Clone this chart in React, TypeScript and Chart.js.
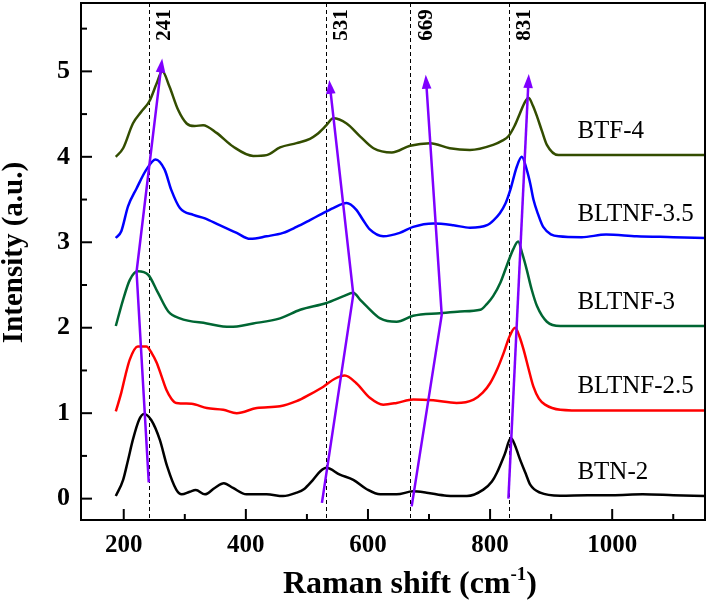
import React, { useEffect, useRef } from 'react';
import { Chart, registerables } from 'chart.js';

Chart.register(...registerables);

// ---------- axis ranges & ticks ----------
const X_MIN = 130;
const X_MAX = 1152;
const Y_MIN = -0.25;
const Y_MAX = 5.8;
const xMajorTicks = [200, 400, 600, 800, 1000];
const xMinorTicks = [300, 500, 700, 900, 1100];
const yMajorTicks = [0, 1, 2, 3, 4, 5];
const yMinorTicks = [0.5, 1.5, 2.5, 3.5, 4.5, 5.5];

// ---------- series ----------
const seriesNames = ['BTN-2', 'BLTNF-2.5', 'BLTNF-3', 'BLTNF-3.5', 'BTF-4'];
const seriesColors = ['#000000', '#ff0000', '#006633', '#0000ff', '#334d00'];

const btn2: [number, number][] = [
  [187, 0.03], [199, 0.22], [207, 0.45], [215, 0.69], [225, 0.92], [233, 0.99], [245, 0.92], [259, 0.69],
  [271, 0.38], [286, 0.105], [295, 0.05], [308, 0.08], [318, 0.1], [333, 0.05], [349, 0.125], [364, 0.18],
  [379, 0.125], [401, 0.05], [434, 0.05], [461, 0.03], [483, 0.07], [495, 0.11], [510, 0.22], [522, 0.32],
  [532, 0.36], [554, 0.28], [576, 0.22], [598, 0.11], [620, 0.05], [647, 0.05], [674, 0.085], [696, 0.07],
  [729, 0.035], [762, 0.03], [789, 0.105], [803, 0.2], [811, 0.3], [824, 0.52], [834, 0.71], [841, 0.62],
  [849, 0.46], [858, 0.3], [866, 0.16], [882, 0.07], [915, 0.035], [960, 0.04], [1000, 0.04], [1050, 0.05],
  [1100, 0.04], [1152, 0.03],
];

const bltnf25: [number, number][] = [
  [187, 1.02], [196, 1.24], [203, 1.45], [210, 1.63], [223, 1.78], [237, 1.78], [246, 1.7], [254, 1.59],
  [262, 1.43], [270, 1.27], [278, 1.17], [286, 1.12], [311, 1.11], [336, 1.06], [363, 1.04], [385, 1.0],
  [418, 1.06], [456, 1.08], [483, 1.14], [505, 1.22], [527, 1.31], [545, 1.4], [562, 1.44], [581, 1.35],
  [603, 1.18], [625, 1.1], [647, 1.12], [674, 1.16], [707, 1.15], [745, 1.12], [773, 1.16], [788, 1.24],
  [800, 1.35], [812, 1.52], [822, 1.7], [832, 1.9], [841, 2.0], [848, 1.9], [855, 1.74], [863, 1.52],
  [871, 1.31], [880, 1.17], [890, 1.1], [915, 1.04], [960, 1.03], [1050, 1.03], [1152, 1.03],
];

const bltnf3: [number, number][] = [
  [187, 2.02], [199, 2.33], [210, 2.56], [223, 2.66], [240, 2.62], [256, 2.41], [273, 2.19], [292, 2.11],
  [336, 2.05], [374, 2.01], [412, 2.05], [456, 2.11], [489, 2.21], [532, 2.29], [560, 2.37], [576, 2.41],
  [587, 2.33], [598, 2.25], [620, 2.11], [647, 2.07], [674, 2.14], [718, 2.17], [751, 2.19], [784, 2.21],
  [795, 2.28], [805, 2.37], [817, 2.53], [827, 2.72], [838, 2.92], [846, 3.01], [853, 2.86], [860, 2.68],
  [868, 2.45], [877, 2.25], [893, 2.07], [915, 2.02], [1000, 2.02], [1152, 2.02],
];

const bltnf35: [number, number][] = [
  [187, 3.05], [196, 3.13], [207, 3.42], [221, 3.63], [237, 3.85], [252, 3.97], [267, 3.85], [278, 3.61],
  [292, 3.4], [314, 3.32], [333, 3.28], [357, 3.2], [385, 3.11], [407, 3.04], [434, 3.07], [461, 3.11],
  [483, 3.18], [505, 3.26], [521, 3.32], [543, 3.4], [565, 3.46], [581, 3.38], [592, 3.26], [603, 3.15],
  [625, 3.07], [652, 3.11], [674, 3.18], [707, 3.22], [740, 3.2], [767, 3.17], [795, 3.2], [806, 3.26],
  [816, 3.34], [825, 3.45], [833, 3.61], [844, 3.89], [852, 4.0], [860, 3.85], [866, 3.68], [871, 3.5],
  [879, 3.32], [887, 3.18], [912, 3.07], [950, 3.06], [990, 3.09], [1040, 3.07], [1100, 3.06], [1152, 3.05],
];

const btf4: [number, number][] = [
  [187, 4.0], [199, 4.1], [215, 4.39], [229, 4.53], [242, 4.65], [254, 4.86], [263, 5.0], [275, 4.82],
  [289, 4.55], [303, 4.39], [316, 4.36], [330, 4.37], [352, 4.28], [379, 4.12], [412, 4.01], [434, 4.02],
  [456, 4.11], [483, 4.16], [505, 4.21], [516, 4.26], [532, 4.37], [543, 4.45], [565, 4.39], [587, 4.24],
  [609, 4.1], [639, 4.05], [669, 4.13], [702, 4.16], [734, 4.1], [767, 4.08], [805, 4.14], [820, 4.19],
  [830, 4.24], [840, 4.36], [849, 4.51], [857, 4.64], [863, 4.69], [870, 4.6], [877, 4.47], [885, 4.3],
  [893, 4.14], [912, 4.02], [1000, 4.02], [1152, 4.02],
];

const seriesData = [btn2, bltnf25, bltnf3, bltnf35, btf4];

// ---------- annotations ----------
const peakPositions = [241, 531, 669, 831];
const peakLabels = ['241', '531', '669', '831'];

const arrow241: [number, number][] = [[241, 0.19], [221, 2.655], [263, 5.15]];
const arrow531: [number, number][] = [[524.6, -0.05], [576, 2.39], [536.6, 4.9]];
const arrow669: [number, number][] = [[671.6, -0.09], [720.8, 2.15], [694.6, 4.96]];
const arrow831: [number, number][] = [[830, 0.0], [863.4, 4.97]];
const arrows = [arrow241, arrow531, arrow669, arrow831];

const seriesLabelX = 943;

const FONT = '"Liberation Serif", "Times New Roman", Times, serif';
const ARROW_COLOR = '#7f00ff';

function drawArrow(ctx: CanvasRenderingContext2D, pts: [number, number][]) {
  const n = pts.length;
  const [tx, ty] = pts[n - 1];
  const [px, py] = pts[n - 2];
  const ang = Math.atan2(ty - py, tx - px);
  const L = 14;
  const W = 4.8;
  const c = Math.cos(ang);
  const s = Math.sin(ang);
  ctx.beginPath();
  ctx.moveTo(pts[0][0], pts[0][1]);
  for (let i = 1; i < n - 1; i++) ctx.lineTo(pts[i][0], pts[i][1]);
  ctx.lineTo(tx - L * 0.8 * c, ty - L * 0.8 * s);
  ctx.stroke();
  ctx.beginPath();
  ctx.moveTo(tx, ty);
  ctx.lineTo(tx - L * c + W * s, ty - L * s - W * c);
  ctx.lineTo(tx - L * c - W * s, ty - L * s + W * c);
  ctx.closePath();
  ctx.fill();
}

const decorPlugin = {
  id: 'decor',
  beforeDatasetsDraw(chart: any) {
    const { ctx, chartArea, scales } = chart;
    const x = scales.x;
    ctx.save();
    ctx.strokeStyle = '#000';
    ctx.lineWidth = 1;
    ctx.setLineDash([4, 3]);
    peakPositions.forEach((p) => {
      const px = Math.round(x.getPixelForValue(p)) + 0.5;
      ctx.beginPath();
      ctx.moveTo(px, chartArea.top);
      ctx.lineTo(px, chartArea.bottom);
      ctx.stroke();
    });
    ctx.restore();
  },
  afterDatasetsDraw(chart: any) {
    const { ctx, scales } = chart;
    const x = scales.x;
    const y = scales.y;
    ctx.save();
    // arrows
    ctx.strokeStyle = ARROW_COLOR;
    ctx.fillStyle = ARROW_COLOR;
    ctx.lineWidth = 2.5;
    ctx.lineJoin = 'round';
    arrows.forEach((a) => {
      const pts = a.map(([vx, vy]) => [x.getPixelForValue(vx), y.getPixelForValue(vy)] as [number, number]);
      drawArrow(ctx, pts);
    });
    // peak labels (rotated)
    ctx.fillStyle = '#000';
    ctx.font = `bold 21px ${FONT}`;
    ctx.textAlign = 'center';
    ctx.textBaseline = 'middle';
    peakPositions.forEach((p, i) => {
      const px = x.getPixelForValue(p) + 16;
      ctx.save();
      ctx.translate(px, 25);
      ctx.rotate(-Math.PI / 2);
      ctx.fillText(peakLabels[i], 0, 0);
      ctx.restore();
    });
    // series labels
    ctx.font = `25px ${FONT}`;
    ctx.textAlign = 'left';
    ctx.textBaseline = 'middle';
    seriesNames.forEach((name, i) => {
      const d = seriesData[i];
      const last = d[d.length - 1][1];
      ctx.fillText(name, x.getPixelForValue(seriesLabelX), y.getPixelForValue(last + 0.28));
    });
    ctx.restore();
  },
  afterDraw(chart: any) {
    const { ctx, chartArea, scales } = chart;
    const { left, right, top, bottom } = chartArea;
    const x = scales.x;
    const y = scales.y;
    ctx.save();
    ctx.strokeStyle = '#000';
    ctx.lineWidth = 2;
    ctx.strokeRect(left, top, right - left, bottom - top);
    // inward ticks
    const tick = (x1: number, y1: number, x2: number, y2: number) => {
      ctx.beginPath();
      ctx.moveTo(x1, y1);
      ctx.lineTo(x2, y2);
      ctx.stroke();
    };
    xMajorTicks.forEach((v) => { const p = x.getPixelForValue(v); tick(p, bottom, p, bottom - 11); });
    xMinorTicks.forEach((v) => { const p = x.getPixelForValue(v); tick(p, bottom, p, bottom - 6); });
    yMajorTicks.forEach((v) => { const p = y.getPixelForValue(v); tick(left, p, left + 11, p); });
    yMinorTicks.forEach((v) => { const p = y.getPixelForValue(v); tick(left, p, left + 6, p); });

    // x title with superscript
    ctx.fillStyle = '#000';
    ctx.textBaseline = 'alphabetic';
    ctx.textAlign = 'left';
    const mainFont = `bold 32px ${FONT}`;
    const supFont = `bold 19px ${FONT}`;
    ctx.font = mainFont;
    const part1 = 'Raman shift (cm';
    const part3 = ')';
    const w1 = ctx.measureText(part1).width;
    const w3 = ctx.measureText(part3).width;
    ctx.font = supFont;
    const w2 = ctx.measureText('-1').width;
    const total = w1 + w2 + w3;
    const cx = (left + right) / 2 + 17;
    let sx = cx - total / 2;
    const base = 593;
    ctx.font = mainFont;
    ctx.fillText(part1, sx, base);
    sx += w1;
    ctx.font = supFont;
    ctx.fillText('-1', sx, base - 13);
    sx += w2;
    ctx.font = mainFont;
    ctx.fillText(part3, sx, base);

    // y title
    ctx.save();
    ctx.translate(22, (top + bottom) / 2 - 9);
    ctx.rotate(-Math.PI / 2);
    ctx.font = `bold 29px ${FONT}`;
    ctx.textAlign = 'center';
    ctx.textBaseline = 'alphabetic';
    ctx.fillText('Intensity (a.u.)', 0, 0);
    ctx.restore();
    ctx.restore();
  },
};

export default function App() {
  const canvasRef = useRef<HTMLCanvasElement | null>(null);

  useEffect(() => {
    document.body.style.margin = '0';
    const canvas = canvasRef.current;
    if (!canvas) return;
    const chart = new Chart(canvas, {
      type: 'line',
      data: {
        datasets: seriesNames.map((name, i) => ({
          label: name,
          data: seriesData[i].map(([vx, vy]) => ({ x: vx, y: vy })),
          borderColor: seriesColors[i],
          backgroundColor: seriesColors[i],
          borderWidth: 2.5,
          pointRadius: 0,
          cubicInterpolationMode: 'monotone' as const,
          fill: false,
        })),
      },
      options: {
        animation: false,
        responsive: false,
        devicePixelRatio: 1,
        layout: { padding: { top: 3, right: 3, left: 0, bottom: 0 } },
        plugins: {
          legend: { display: false },
          tooltip: { enabled: false },
        },
        scales: {
          x: {
            type: 'linear',
            min: X_MIN,
            max: X_MAX,
            afterBuildTicks: (axis: any) => {
              axis.ticks = xMajorTicks.map((v) => ({ value: v }));
            },
            afterFit: (axis: any) => {
              axis.height = 83;
              axis.paddingLeft = 0;
              axis.paddingRight = 0;
            },
            grid: { display: false, drawTicks: false },
            border: { display: false },
            ticks: {
              color: '#000',
              padding: 11,
              font: { family: FONT, size: 25, weight: 'bold' },
              maxRotation: 0,
              autoSkip: false,
              callback: (v: any) => String(v),
            },
          },
          y: {
            type: 'linear',
            min: Y_MIN,
            max: Y_MAX,
            afterBuildTicks: (axis: any) => {
              axis.ticks = yMajorTicks.map((v) => ({ value: v }));
            },
            afterFit: (axis: any) => {
              axis.width = 81;
              axis.paddingTop = 0;
              axis.paddingBottom = 0;
            },
            grid: { display: false, drawTicks: false },
            border: { display: false },
            ticks: {
              color: '#000',
              padding: 11,
              font: { family: FONT, size: 26, weight: 'bold' },
              autoSkip: false,
              callback: (v: any) => String(v),
            },
          },
        },
      },
      plugins: [decorPlugin],
    });
    return () => chart.destroy();
  }, []);

  return (
    <div style={{ position: 'relative', width: 708, height: 603 }}>
      <canvas ref={canvasRef} width={708} height={603} style={{ display: 'block' }} />
    </div>
  );
}
